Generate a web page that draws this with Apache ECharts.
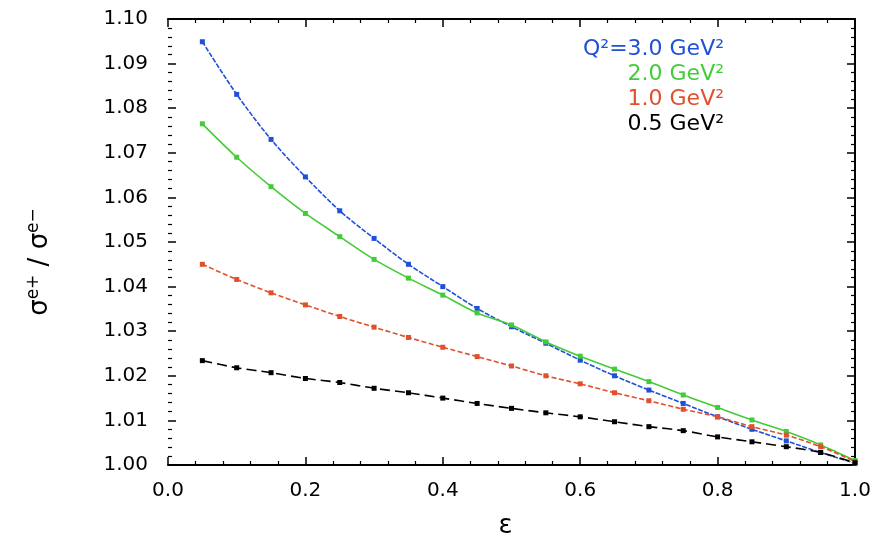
<!DOCTYPE html>
<html>
<head>
<meta charset="utf-8">
<script src="https://cdn.jsdelivr.net/npm/echarts@6/dist/echarts.min.js"></script>
<style>html,body{margin:0;padding:0;background:#fff}#c{width:884px;height:550px}</style>
</head>
<body>
<div id="c"></div>
<script>
var eps = [0.05,0.10,0.15,0.20,0.25,0.30,0.35,0.40,0.45,0.50,0.55,0.60,0.65,0.70,0.75,0.80,0.85,0.90,0.95,1.00];
var q3 = [1.0949,1.0831,1.0730,1.0646,1.0570,1.0508,1.0450,1.0400,1.0351,1.0310,1.0273,1.0235,1.0200,1.0168,1.0138,1.0108,1.0080,1.0054,1.0028,1.0004];
var q2 = [1.0765,1.0690,1.0624,1.0564,1.0512,1.0461,1.0419,1.0381,1.0341,1.0314,1.0276,1.0244,1.0215,1.0187,1.0157,1.0129,1.0101,1.0075,1.0045,1.0010];
var q1 = [1.0450,1.0416,1.0386,1.0359,1.0333,1.0309,1.0286,1.0264,1.0243,1.0222,1.0200,1.0182,1.0162,1.0144,1.0125,1.0108,1.0086,1.0067,1.0041,1.0008];
var q05 = [1.0234,1.0218,1.0207,1.0194,1.0185,1.0172,1.0162,1.0150,1.0138,1.0127,1.0117,1.0108,1.0097,1.0086,1.0077,1.0063,1.0052,1.0041,1.0028,1.0005];
var seriesNames = ['Q\u00b2=3.0 GeV\u00b2','2.0 GeV\u00b2','1.0 GeV\u00b2','0.5 GeV\u00b2'];
var xTicks = ['0.0','0.2','0.4','0.6','0.8','1.0'];
var yTicks = ['1.00','1.01','1.02','1.03','1.04','1.05','1.06','1.07','1.08','1.09','1.10'];

var colors = ['#1f50d8','#44cc38','#e0502c','#000000'];
var dashes = [[5,1.5],'solid',[5,2.5],[10,5]];
var vals = [q3,q2,q1,q05];
function pairs(a){ return eps.map(function(x,i){ return [x,a[i]]; }); }

var chart = echarts.init(document.getElementById('c'));
var FONT = 'DejaVu Sans';
function axisCommon(){
  return {
    axisLine:{show:true,onZero:false,lineStyle:{color:'#000',width:2}},
    axisTick:{show:true,inside:true,length:8,lineStyle:{color:'#000',width:1.5}},
    minorTick:{show:true,splitNumber:5,length:4,lineStyle:{color:'#000',width:1.2}},
    splitLine:{show:false}
  };
}
var xb = Object.assign(axisCommon(),{type:'value',min:0,max:1,interval:0.2,position:'bottom',
  name:'\u03b5',nameLocation:'middle',nameGap:48,nameTextStyle:{fontFamily:FONT,fontSize:26,color:'#000',padding:[0,12,0,0]},
  axisLabel:{margin:16,fontFamily:FONT,fontSize:20,color:'#000',formatter:function(v){ return xTicks[Math.round(v/0.2)]; }}});
var xt = Object.assign(axisCommon(),{type:'value',min:0,max:1,interval:0.2,position:'top',axisLabel:{show:false}});
var yl = Object.assign(axisCommon(),{type:'value',min:1.0,max:1.1,interval:0.01,position:'left',
  name:'{s|\u03c3}{sup|e+}{s| / \u03c3}{sup|e\u2212}',nameLocation:'middle',nameGap:112,
  nameTextStyle:{fontFamily:FONT,fontSize:26,color:'#000',padding:[0,40,0,0],
    rich:{s:{fontFamily:FONT,fontSize:26,color:'#000'},sup:{fontFamily:FONT,fontSize:17,color:'#000',verticalAlign:'bottom',padding:[0,0,14,0]}}},
  axisLabel:{margin:20,fontFamily:FONT,fontSize:20,color:'#000',formatter:function(v){ return yTicks[Math.round((v-1)*100)]; }}});
yl.axisLine = {show:false};
var yr = Object.assign(axisCommon(),{type:'value',min:1.0,max:1.1,interval:0.01,position:'right',axisLabel:{show:false}});

var series = vals.map(function(a,i){
  return {name:seriesNames[i],type:'line',xAxisIndex:0,yAxisIndex:0,data:pairs(a),smooth:0.3,
    symbol:'rect',symbolSize:5,itemStyle:{color:colors[i]},
    lineStyle:{color:colors[i],width:1.6,type:dashes[i]},animation:false};
});

var legendY = [50,75,100,125];
var graphics = seriesNames.map(function(n,i){
  return {type:'text',right:884-724,top:legendY[i]-12,style:{text:n,fill:colors[i],font:'22px "DejaVu Sans"',textAlign:'right'}};
});

chart.setOption({
  animation:false,
  backgroundColor:'#fff',
  grid:{left:168,right:29,top:19,bottom:85,containLabel:false},
  xAxis:[xb,xt],
  yAxis:[yl,yr],
  series:series,
  graphic:graphics
});
</script>
</body>
</html>
